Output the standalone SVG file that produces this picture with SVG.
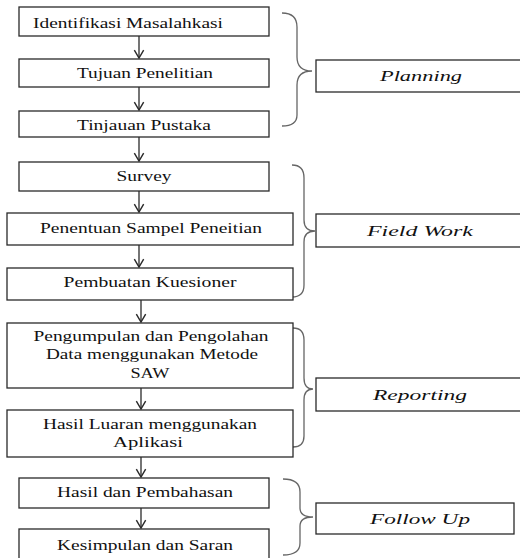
<svg xmlns="http://www.w3.org/2000/svg" width="520" height="558" viewBox="0 0 520 558">
<style>
.box{fill:#fff;stroke:#2a2a2a;stroke-width:1.3}
.t{font-family:'Liberation Serif','DejaVu Serif','Times New Roman',serif;font-size:15px;fill:#111;text-anchor:middle}
.it{font-style:italic}
.conn{stroke:#2a2a2a;stroke-width:1.3;fill:none}
.brace{stroke:#666;stroke-width:1.3;fill:none}
</style>
<defs>
<marker id="ah" markerUnits="userSpaceOnUse" markerWidth="10" markerHeight="12" refX="8" refY="5" orient="auto" viewBox="0 0 9 10">
<path d="M1,0.8 L8,5 L1,9.2" fill="none" stroke="#2a2a2a" stroke-width="1.3"/>
</marker>
</defs>
<rect width="520" height="558" fill="#fff"/>
<g id="connectors">
<line class="conn" x1="139" y1="36" x2="139" y2="58" marker-end="url(#ah)"/>
<line class="conn" x1="139" y1="87" x2="139" y2="110" marker-end="url(#ah)"/>
<line class="conn" x1="139" y1="137" x2="139" y2="161" marker-end="url(#ah)"/>
<line class="conn" x1="139" y1="191" x2="139" y2="212" marker-end="url(#ah)"/>
<line class="conn" x1="139" y1="245" x2="139" y2="267" marker-end="url(#ah)"/>
<line class="conn" x1="141" y1="300" x2="141" y2="322" marker-end="url(#ah)"/>
<line class="conn" x1="141" y1="388" x2="141" y2="409" marker-end="url(#ah)"/>
<line class="conn" x1="141" y1="457" x2="141" y2="477" marker-end="url(#ah)"/>
<line class="conn" x1="141" y1="508" x2="141" y2="528" marker-end="url(#ah)"/>
<path class="brace" d="M282,13 C292,13 297,17 297,27 L297,57 C297,66 302,71 312,71 C302,71 297,76 297,85 L297,115 C297,123 292,126 282,126"/>
<path class="brace" d="M292,165 C300,165 304,169 304,178 L304,220 C304,227 307,231 315,231 C307,231 304,235 304,242 L304,285 C304,293 300,297 292,297"/>
<path class="brace" d="M293,328 C300,328 304,332 304,340 L304,378 C304,385 307,389 313,389 C307,389 304,393 304,400 L304,436 C304,444 300,447 293,447"/>
<path class="brace" d="M283,479 C294,479 300,483 300,492 L300,508 C300,514 305,517 313,517 C305,517 300,520 300,526 L300,543 C300,551 294,555 283,555"/>
</g>
<g id="n1"><rect class="box" x="19" y="7" width="250" height="29"/><text class="t" x="128" y="28" textLength="190" lengthAdjust="spacingAndGlyphs">Identifikasi Masalahkasi</text></g>
<g id="n2"><rect class="box" x="19" y="59" width="250" height="28"/><text class="t" x="145" y="78" textLength="136" lengthAdjust="spacingAndGlyphs">Tujuan Penelitian</text></g>
<g id="n3"><rect class="box" x="19" y="111" width="250" height="26"/><text class="t" x="144" y="130" textLength="134" lengthAdjust="spacingAndGlyphs">Tinjauan Pustaka</text></g>
<g id="n4"><rect class="box" x="19" y="162" width="250" height="29"/><text class="t" x="144" y="181" textLength="55" lengthAdjust="spacingAndGlyphs">Survey</text></g>
<g id="n5"><rect class="box" x="7" y="213" width="286" height="32"/><text class="t" x="151" y="233" textLength="222" lengthAdjust="spacingAndGlyphs">Penentuan Sampel Peneitian</text></g>
<g id="n6"><rect class="box" x="7" y="268" width="286" height="32"/><text class="t" x="150" y="287" textLength="173" lengthAdjust="spacingAndGlyphs">Pembuatan Kuesioner</text></g>
<g id="n7"><rect class="box" x="7" y="323" width="286" height="65"/>
<text class="t" x="151" y="341" textLength="235" lengthAdjust="spacingAndGlyphs">Pengumpulan dan Pengolahan</text>
<text class="t" x="152" y="359" textLength="212" lengthAdjust="spacingAndGlyphs">Data menggunakan Metode</text>
<text class="t" x="150" y="378" textLength="39" lengthAdjust="spacingAndGlyphs">SAW</text></g>
<g id="n8"><rect class="box" x="7" y="410" width="286" height="47"/>
<text class="t" x="150" y="429" textLength="214" lengthAdjust="spacingAndGlyphs">Hasil Luaran menggunakan</text>
<text class="t" x="148" y="447" textLength="70" lengthAdjust="spacingAndGlyphs">Aplikasi</text></g>
<g id="n9"><rect class="box" x="19" y="478" width="250" height="30"/><text class="t" x="145" y="497" textLength="176" lengthAdjust="spacingAndGlyphs">Hasil dan Pembahasan</text></g>
<g id="n10"><rect class="box" x="19" y="529" width="250" height="35"/><text class="t" x="145" y="550" textLength="176" lengthAdjust="spacingAndGlyphs">Kesimpulan dan Saran</text></g>
<g id="planning"><rect class="box" x="316" y="60" width="210" height="32"/><text class="t it" x="421" y="81" textLength="82" lengthAdjust="spacingAndGlyphs">Planning</text></g>
<g id="fieldwork"><rect class="box" x="316" y="214" width="210" height="33"/><text class="t it" x="420" y="236" textLength="106" lengthAdjust="spacingAndGlyphs">Field Work</text></g>
<g id="reporting"><rect class="box" x="316" y="378" width="210" height="33"/><text class="t it" x="420" y="400" textLength="94" lengthAdjust="spacingAndGlyphs">Reporting</text></g>
<g id="followup"><rect class="box" x="316" y="503" width="198" height="31"/><text class="t it" x="420" y="524" textLength="100" lengthAdjust="spacingAndGlyphs">Follow Up</text></g>
</svg>
